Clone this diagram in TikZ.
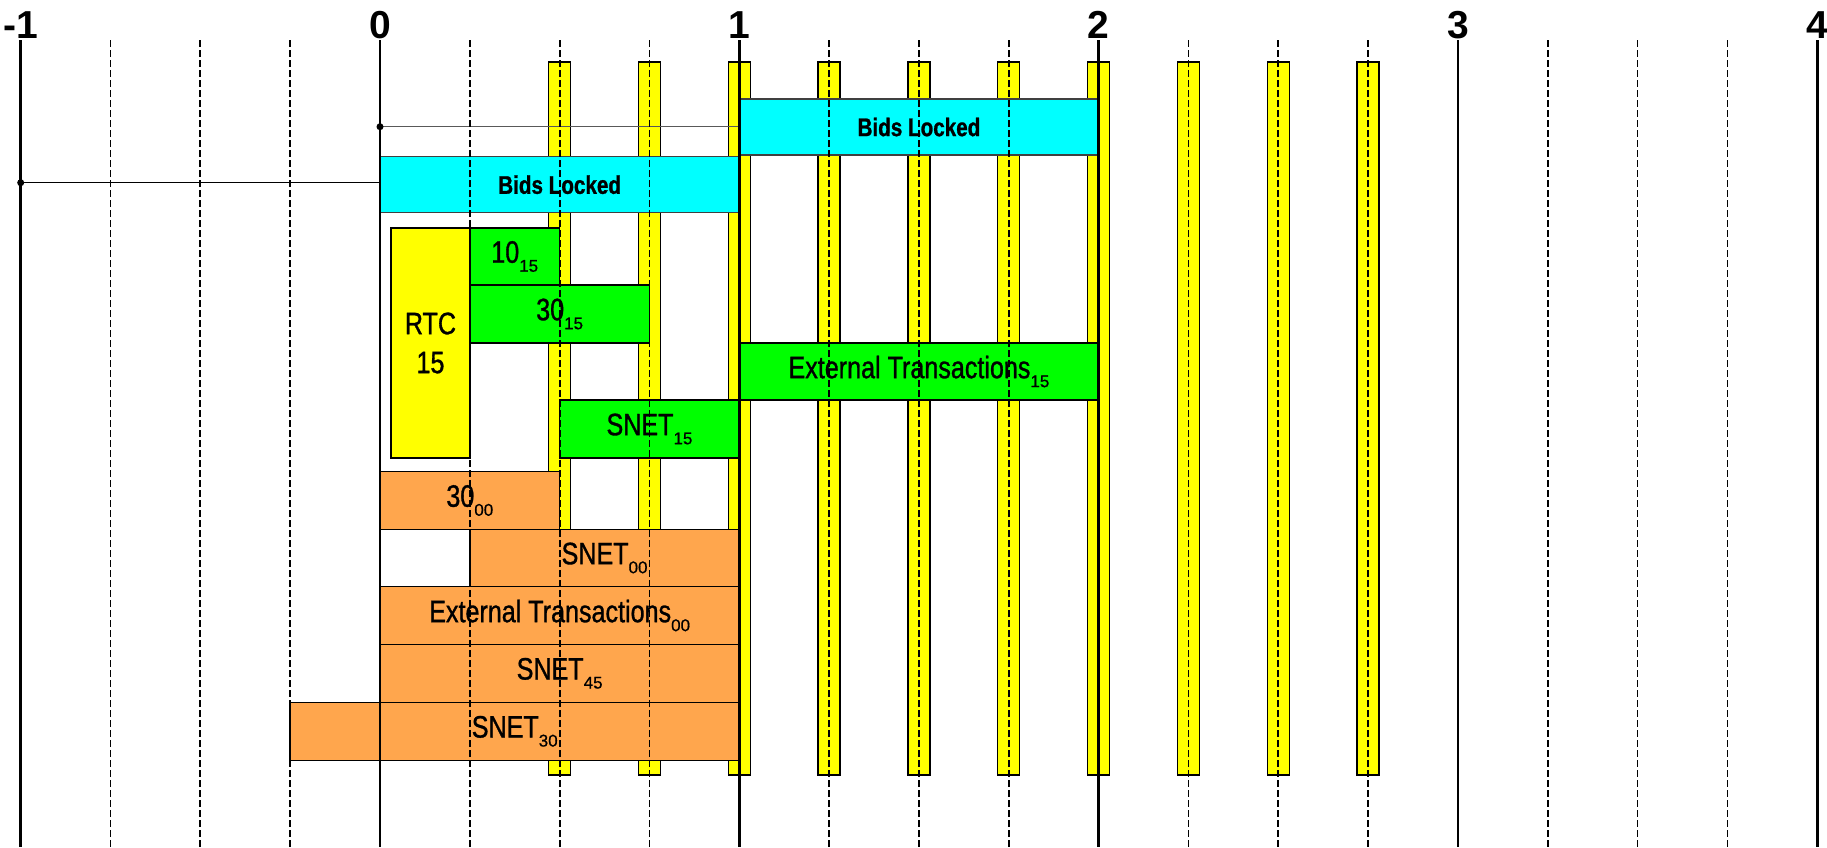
\documentclass[tikz,border=0pt]{standalone}
\usepackage{fontspec}
\setmainfont{Liberation Sans}
\newfontfamily\condfont[FakeStretch=0.81,FakeBold=1]{Liberation Sans}
\newfontfamily\subfont[FakeBold=0.6]{Liberation Sans}
\newcommand\sbs[1]{\raisebox{-9pt}{\subfont\fontsize{17}{17}\selectfont #1}}
\definecolor{cyanbox}{RGB}{0,255,255}
\definecolor{greenbox}{RGB}{0,255,0}
\definecolor{yellowbox}{RGB}{255,255,0}
\definecolor{orangebox}{RGB}{255,166,77}
\begin{document}
\begin{tikzpicture}[x=359.3pt,y=-1pt,
  bar/.style={draw=black, line width=1.3pt, fill=yellowbox},
  box/.style={draw=black, line width=1.5pt, inner sep=0pt, outer sep=0pt, anchor=center,
    font=\condfont\fontsize{31}{39}\selectfont, align=center},
  bidbox/.style={box, fill=cyanbox, draw=black!75, line width=1.2pt,
    font=\condfont\bfseries\fontsize{25.5}{30}\selectfont},
  grnbox/.style={box, fill=greenbox},
  orgbox/.style={box, fill=orangebox},
  rtcbox/.style={box, fill=yellowbox},
  gridd/.style={line width=1.7pt, dash pattern=on 7pt off 3pt},
  grids/.style={line width=2.8pt},
  conn/.style={line width=1.3pt},
  dotnode/.style={circle, fill=black, inner sep=0pt, minimum size=7pt},
  axlab/.style={font=\bfseries\fontsize{39}{39}\selectfont, anchor=base, inner sep=0pt}]
\useasboundingbox (-1.05762,0) rectangle (4.02728,847);
\fill[white] (-1.05762,0) rectangle (4.02728,847);
% yellow bars
\foreach \u in {0.5,0.75,1.0,1.25,1.5,1.75,2.0,2.25,2.5,2.75}
  \draw[bar] (\u-0.0306,62) rectangle (\u+0.0306,775);
% boxes
\node[bidbox, minimum width=359.3pt, minimum height=56pt] (bl2) at (1.5,127) {Bids Locked};
\node[bidbox, minimum width=359.3pt, minimum height=56pt] (bl1) at (0.5,184.7) {Bids Locked};
\node[rtcbox, minimum width=79pt, minimum height=230pt] (rtc) at (0.1405,343) {RTC\\15};
\node[grnbox, minimum width=89.8pt, minimum height=57pt] (g1015) at (0.375,256.5) {10\sbs{15}};
\node[grnbox, minimum width=179.6pt, minimum height=58pt] (g3015) at (0.5,314) {30\sbs{15}};
\node[grnbox, minimum width=359.3pt, minimum height=57pt] (get15) at (1.5,371.5) {External Transactions\sbs{15}};
\node[grnbox, minimum width=179.6pt, minimum height=58pt] (gsn15) at (0.75,429) {SNET\sbs{15}};
\node[orgbox, minimum width=179.6pt, minimum height=57.6pt] (o3000) at (0.25,500.5) {30\sbs{00}};
\node[orgbox, minimum width=269.5pt, minimum height=57.4pt] (osn00) at (0.625,558) {SNET\sbs{00}};
\node[orgbox, minimum width=359.3pt, minimum height=57.6pt] (oet00) at (0.5,615.5) {External Transactions\sbs{00}};
\node[orgbox, minimum width=359.3pt, minimum height=58pt] (osn45) at (0.5,673.3) {SNET\sbs{45}};
\node[orgbox, minimum width=449.1pt, minimum height=58pt] (osn30) at (0.375,731.3) {SNET\sbs{30}};
% connectors
\coordinate (d1) at (-1,182.7);
\coordinate (d2) at (0,126.7);
\draw[conn] (d1) -- (d1 -| bl1.west);
\draw[conn, draw=black!65] (d2) -- (d2 -| bl2.west);
% grid
\foreach \u in {-0.75,-0.5,-0.25,0.25,0.5,0.75,1.25,1.5,1.75,2.25,2.5,2.75,3.25,3.5,3.75}
  \draw[gridd] (\u,40) -- (\u,847);
\foreach \u in {-1,0,1,2,3,4}
  \draw[grids] (\u,40) -- (\u,847);
\node[dotnode] (dot1) at (d1) {};
\node[dotnode] (dot2) at (d2) {};
% labels
\node[axlab] (lm1) at (-1,38) {-1};
\node[axlab] (l0) at (0,38) {0};
\node[axlab] (l1) at (1,38) {1};
\node[axlab] (l2) at (2,38) {2};
\node[axlab] (l3) at (3,38) {3};
\node[axlab] (l4) at (4,38) {4};
\end{tikzpicture}
\end{document}
